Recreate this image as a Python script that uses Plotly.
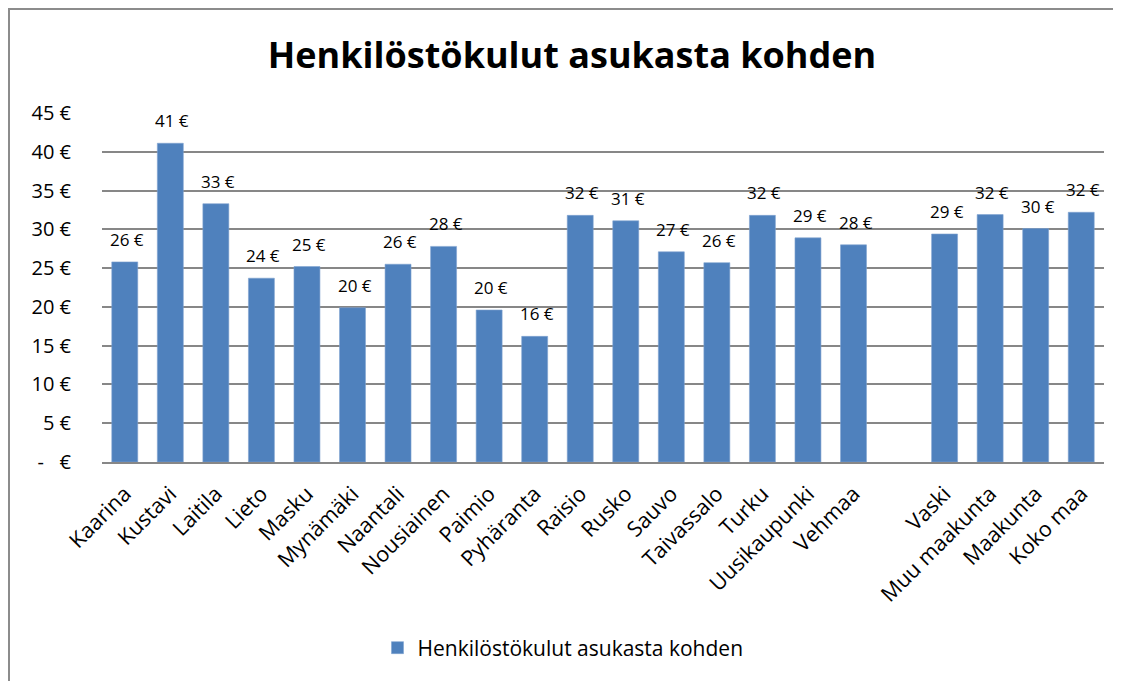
import plotly.graph_objects as go

categories = ["Kaarina", "Kustavi", "Laitila", "Lieto", "Masku", "Mynämäki", "Naantali",
              "Nousiainen", "Paimio", "Pyhäranta", "Raisio", "Rusko", "Sauvo", "Taivassalo",
              "Turku", "Uusikaupunki", "Vehmaa", " ", "Vaski", "Muu maakunta", "Maakunta", "Koko maa"]
values = [25.8, 41.1, 33.3, 23.7, 25.2, 19.9, 25.5, 27.8, 19.6, 16.2, 31.8, 31.1, 27.1, 25.7,
          31.8, 28.9, 28.0, None, 29.4, 31.9, 30.1, 32.2]
series_name = "Henkilöstökulut asukasta kohden"
title_text = "Henkilöstökulut asukasta kohden"
y_tickvals = [0, 5, 10, 15, 20, 25, 30, 35, 40, 45]
y_ticktext = ["-   €" if v == 0 else f"{v} €" for v in y_tickvals]

BAR = "#4F81BD"
GRID = "#878787"
FONT = "Open Sans"

# plot area in figure pixels
L, R, T, B = 94, 1096, 105, 454
W, H = 1121, 681

fig = go.Figure()
fig.add_trace(go.Bar(
    x=categories, y=values, name=series_name,
    marker=dict(color=BAR, line=dict(color="#7FA3D0", width=0.6)),
    showlegend=True,
))

annotations = []
for c, v in zip(categories, values):
    if v is None:
        continue
    annotations.append(dict(x=c, y=v, xref="x", yref="y", text=f"{round(v)} €",
                            showarrow=False, yanchor="bottom", yshift=9, xshift=2,
                            font=dict(family=FONT, size=17, color="#000000")))

fig.update_layout(
    width=W, height=H,
    margin=dict(l=L, r=W - R, t=T, b=H - B, autoexpand=False),
    paper_bgcolor="white", plot_bgcolor="white",
    title=dict(text=f"<b>{title_text}</b>", x=564 / W, xref="container", xanchor="center",
               y=1 - 47 / H, yref="container", yanchor="middle",
               font=dict(family=FONT, size=36, color="#000000")),
    bargap=0.43,
    legend=dict(orientation="h", x=555 / W, xref="container", xanchor="center",
                y=1 - 640 / H, yref="container", yanchor="middle",
                font=dict(family=FONT, size=21, color="#000000")),
    annotations=annotations,
    font=dict(family=FONT, color="#000000"),
)

fig.update_yaxes(range=[0, 45], tickvals=y_tickvals, ticktext=y_ticktext,
                 showgrid=True, gridcolor=GRID, gridwidth=1.5, zeroline=False,
                 showline=False, ticks="", ticklabelstandoff=30,
                 tickfont=dict(family=FONT, size=20, color="#000000"))
fig.update_xaxes(type="category", tickangle=-45, showline=True, linecolor=GRID, linewidth=1.5,
                 ticks="", ticklabelstandoff=9,
                 tickfont=dict(family=FONT, size=21.5, color="#000000"))

fig.add_shape(type="rect", xref="paper", yref="paper",
              x0=(1 - L) / (R - L), x1=(1130 - L) / (R - L),
              y0=-0.8, y1=(B - 1) / (B - T),
              line=dict(color="#8C8C8C", width=2), fillcolor="rgba(0,0,0,0)", layer="below")

fig.write_html("out.html")
